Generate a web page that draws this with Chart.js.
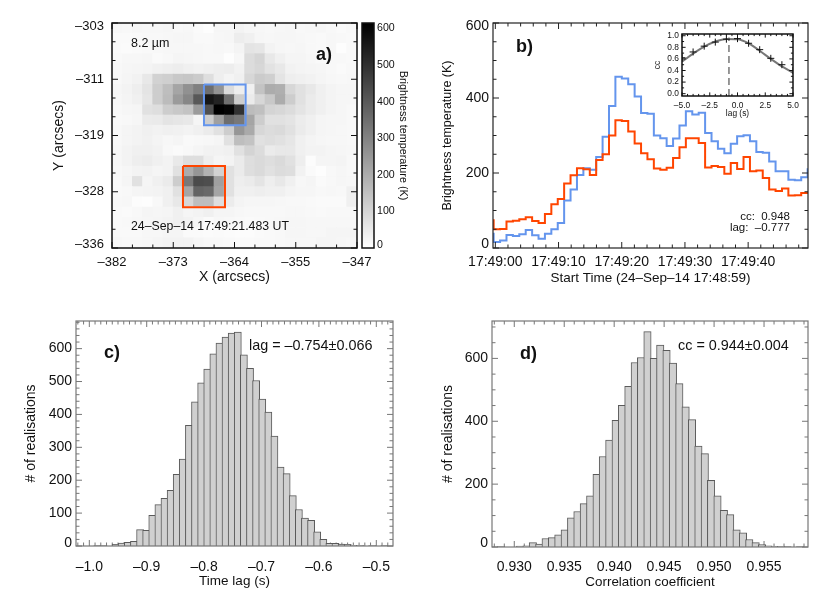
<!DOCTYPE html>
<html lang="en">
<head>
<meta charset="UTF-8">
<title>Brightness temperature panels</title>
<script src="https://cdn.jsdelivr.net/npm/chart.js"></script>
<style>
    body { margin: 0; background: #fff; width: 830px; height: 595px; overflow: hidden; position: relative; font-family: "Liberation Sans", sans-serif; color: #111; }
    canvas { position: absolute; }
    .note { position: absolute; white-space: pre; transform: translateY(-50%); }
    .panel { font-weight: bold; font-size: 18px; }
</style>
</head>
<body>
<canvas id="mapChart"></canvas>
<canvas id="barChart"></canvas>
<canvas id="timeChart"></canvas>
<canvas id="insetChart"></canvas>
<canvas id="lagChart"></canvas>
<canvas id="ccChart"></canvas>

<div class="note" style="left:131px;top:43px;font-size:12.5px">8.2 µm</div>
<div class="note panel" style="left:316px;top:54px">a)</div>
<div class="note" style="left:131px;top:226px;font-size:12.3px">24–Sep–14 17:49:21.483 UT</div>
<div class="note panel" style="left:516px;top:46px">b)</div>
<div class="note" style="right:40px;top:216px;font-size:11.5px">cc:  0.948</div>
<div class="note" style="right:40px;top:227px;font-size:11.5px">lag:  –0.777</div>
<div class="note panel" style="left:104px;top:352px">c)</div>
<div class="note" style="left:249px;top:345px;font-size:14.4px">lag = –0.754±0.066</div>
<div class="note panel" style="left:520px;top:353px">d)</div>
<div class="note" style="left:678px;top:345px;font-size:14.4px">cc = 0.944±0.004</div>

<script>
    // a) 8.2 um map, brightness temperature (K), rows top to bottom
    const mapX = [-381.27, -379.81, -378.35, -376.9, -375.44, -373.98, -372.52, -371.06, -369.6, -368.15, -366.69, -365.23, -363.77, -362.31, -360.85, -359.4, -357.94, -356.48, -355.02, -353.56, -352.1, -350.65, -349.19, -347.73];
    const mapY = [-303, -304.5, -306, -307.5, -309, -310.5, -312, -313.5, -315, -316.5, -318, -319.5, -321, -322.5, -324, -325.5, -327, -328.5, -330, -331.5, -333, -334.5, -336];
    const mapRows = [
        [19,17,22,19,19,22,17,19,12,5,22,22,29,22,19,17,19,22,17,19,22,17,12,17],
        [12,12,14,17,17,19,22,22,14,14,19,22,43,36,22,19,22,22,19,17,14,19,17,14],
        [12,10,12,14,17,19,19,19,19,17,19,17,27,65,60,29,22,19,22,17,14,19,5,14],
        [14,19,19,22,12,17,24,22,19,17,17,5,19,84,101,55,36,24,24,19,14,17,17,14],
        [17,22,24,27,34,38,43,36,31,36,41,43,31,84,96,70,55,31,27,24,22,17,12,17],
        [17,24,31,55,108,116,133,137,125,80,41,27,36,96,125,116,65,41,36,31,24,19,17,19],
        [22,29,41,65,120,157,217,265,306,349,258,84,41,36,145,200,193,96,72,55,36,27,22,22],
        [19,27,36,60,120,161,241,289,402,562,530,345,120,48,96,133,200,120,72,48,36,27,22,22],
        [17,22,24,72,80,120,133,145,241,422,615,603,494,161,152,104,96,84,65,48,36,27,22,17],
        [14,17,22,48,51,65,60,55,24,120,229,349,325,217,120,72,72,65,46,36,24,22,22,17],
        [17,24,29,36,31,36,34,29,36,48,72,120,253,205,96,84,89,72,48,36,24,22,19,17],
        [17,24,29,34,27,19,24,14,17,19,24,72,157,145,72,80,72,60,36,27,22,19,19,17],
        [19,29,36,36,31,17,12,17,24,31,31,36,72,104,84,48,55,55,36,29,29,24,22,19],
        [19,29,41,46,36,29,53,80,80,41,24,29,48,80,89,80,89,72,41,7,24,24,27,17],
        [17,22,29,31,24,29,72,200,253,186,108,72,48,80,89,72,84,80,31,12,5,17,22,17],
        [14,24,72,24,36,48,120,325,434,427,229,72,41,48,65,41,55,36,19,24,12,17,22,19],
        [14,17,24,27,29,36,72,217,374,362,217,72,36,36,41,36,36,27,22,22,17,19,17,36],
        [17,19,7,5,17,36,55,96,157,157,80,46,27,22,22,22,19,17,17,14,12,12,12,36],
        [14,12,17,24,22,24,36,24,29,36,24,24,19,17,17,17,17,19,19,17,14,17,17,17],
        [14,17,19,22,24,29,36,31,22,12,19,17,14,12,14,17,19,22,22,19,19,19,19,19],
        [14,14,14,19,19,24,24,12,12,10,12,10,7,7,12,14,17,22,22,19,19,24,24,24],
        [19,17,17,19,24,29,29,29,22,17,17,14,12,12,14,14,17,19,19,19,24,24,22,19]
    ];
    const blueBoxX = [-368.86, -362.91, -362.91, -368.86, -368.86];
    const blueBoxY = [-312.03, -312.03, -318, -318, -312.03];
    const redBoxX = [-371.86, -365.86, -365.86, -371.86, -371.86];
    const redBoxY = [-323.97, -323.97, -330.03, -330.03, -323.97];
    const mapMaxK = 615;

    // b) light curves
    const timeSec = [-0.77, 0.24, 1.26, 2.27, 3.28, 4.30, 5.31, 6.33, 7.34, 8.35, 9.37, 10.38, 11.39, 12.41, 13.42, 14.44, 15.45, 16.46, 17.48, 18.49, 19.50, 20.52, 21.53, 22.55, 23.56, 24.57, 25.59, 26.60, 27.61, 28.63, 29.64, 30.65, 31.67, 32.68, 33.70, 34.71, 35.72, 36.74, 37.75, 38.76, 39.78, 40.79, 41.80, 42.82, 43.83, 44.85, 45.86, 46.87, 47.89, 48.90, 49.92];
    const blueK = [38,16,20,35,32,37,48,34,25,38,50,67,127,156,195,213,209,243,297,379,457,452,437,404,360,358,300,293,272,292,327,365,356,361,307,285,265,253,278,298,301,285,256,254,231,205,205,182,181,189,210];
    const redK = [74,50,51,71,73,77,82,72,67,91,117,131,172,194,213,210,195,235,250,300,341,339,311,279,253,237,212,209,214,240,269,293,293,280,215,219,216,198,227,211,243,205,207,187,156,152,159,140,141,147,147];
    const timeTicks = [0, 10, 20, 30, 40];
    const timeLabels = ['17:49:00', '17:49:10', '17:49:20', '17:49:30', '17:49:40'];

    // b) inset, cross correlation against lag
    const lagSec = [-5, -4, -3, -2, -1, 0, 1, 2, 3, 4, 5];
    const ccFit = [0.55, 0.69, 0.81, 0.90, 0.945, 0.94, 0.87, 0.74, 0.60, 0.47, 0.36];
    const ccPoints = [0.62, 0.72, 0.82, 0.89, 0.94, 0.95, 0.87, 0.76, 0.61, 0.50, 0.40];
    const lagMarkX = [-0.77, -0.77];
    const lagMarkY = [-0.04, 0.97];

    // c) time lag histogram
    const lagBins = [-0.9860, -0.9754, -0.9647, -0.9541, -0.9435, -0.9328, -0.9222, -0.9115, -0.9009, -0.8903, -0.8796, -0.8690, -0.8583, -0.8477, -0.8371, -0.8264, -0.8158, -0.8051, -0.7945, -0.7839, -0.7732, -0.7626, -0.7519, -0.7413, -0.7307, -0.7200, -0.7094, -0.6987, -0.6881, -0.6775, -0.6668, -0.6562, -0.6455, -0.6349, -0.6243, -0.6136, -0.6030, -0.5923, -0.5817, -0.5711, -0.5604, -0.5498, -0.5391, -0.5285, -0.5179, -0.5072, -0.4966, -0.4859];
    const lagCounts = [1,1,0,5,9,11,14,50,48,93,126,145,169,218,264,367,438,496,538,584,617,635,647,650,581,540,503,447,407,334,240,220,153,111,85,78,43,20,8,8,6,5,2,2,0,1,0,1];

    // d) correlation coefficient histogram
    const ccBins = [0.92868, 0.92932, 0.92995, 0.93059, 0.93123, 0.93186, 0.93250, 0.93314, 0.93378, 0.93441, 0.93505, 0.93569, 0.93632, 0.93696, 0.93760, 0.93824, 0.93887, 0.93951, 0.94015, 0.94078, 0.94142, 0.94206, 0.94269, 0.94333, 0.94397, 0.94461, 0.94524, 0.94588, 0.94652, 0.94715, 0.94779, 0.94843, 0.94907, 0.94970, 0.95034, 0.95098, 0.95161, 0.95225, 0.95289, 0.95352, 0.95416, 0.95480, 0.95544, 0.95607, 0.95671, 0.95735, 0.95798, 0.95862];
    const ccCounts = [1,0,0,3,4,14,9,27,30,39,55,93,113,138,163,231,288,340,403,451,511,587,603,685,600,642,626,585,520,446,405,321,297,212,163,117,103,55,45,24,14,8,4,2,2,1,0,1];

    Chart.defaults.font.family = '"Liberation Sans", sans-serif';
    Chart.defaults.color = '#111';

    // IDL style box: frame plus inward ticks on all four sides
    function tickList(scale, spec) {
        const step = (spec.major[1] - spec.major[0]) / spec.sub;
        const list = [];
        for (let i = -spec.sub; i <= spec.major.length * spec.sub; i++) {
            const v = spec.major[0] + i * step;
            if (v < Math.min(scale.min, scale.max) - 1e-9 || v > Math.max(scale.min, scale.max) + 1e-9) continue;
            list.push([scale.getPixelForValue(v), i % spec.sub === 0 ? 6 : 3.5]);
        }
        return list;
    }
    function drawTicks(chart, opts) {
        const { ctx, chartArea: a, scales } = chart;
        const k = opts.scale || 1;
        ctx.save();
        ctx.strokeStyle = opts.color;
        ctx.lineWidth = 1;
        ctx.beginPath();
        if (opts.x) tickList(scales.x, opts.x).forEach(([p, l]) => {
            ctx.moveTo(p, a.bottom); ctx.lineTo(p, a.bottom - l * k);
            ctx.moveTo(p, a.top); ctx.lineTo(p, a.top + l * k);
        });
        if (opts.y) tickList(scales.y, opts.y).forEach(([p, l]) => {
            ctx.moveTo(a.left, p); ctx.lineTo(a.left + l * k, p);
            ctx.moveTo(a.right, p); ctx.lineTo(a.right - l * k, p);
        });
        ctx.stroke();
        ctx.restore();
    }
    const boxTicks = {
        id: 'boxTicks',
        beforeDatasetsDraw(chart, args, opts) {
            if (opts.under) drawTicks(chart, opts);
        },
        afterDraw(chart, args, opts) {
            if (!opts.under) drawTicks(chart, opts);
            const { ctx, chartArea: a } = chart;
            ctx.save();
            ctx.strokeStyle = opts.color;
            ctx.lineWidth = opts.width;
            ctx.strokeRect(a.left, a.top, a.width, a.height);
            ctx.restore();
        }
    };

    function place(id, frame) {
        const c = document.getElementById(id);
        c.width = frame[2] - frame[0];
        c.height = frame[3] - frame[1];
        c.style.left = frame[0] + 'px';
        c.style.top = frame[1] + 'px';
        return c;
    }

    function axis(cfg) {
        const o = {
            type: 'linear',
            min: cfg.min,
            max: cfg.max,
            offset: false,
            position: cfg.position,
            grid: { display: false, drawTicks: false },
            border: { display: false },
            afterBuildTicks: s => { s.ticks = cfg.at.map(v => ({ value: v })); },
            afterFit: s => {
                if (s.isHorizontal()) s.height = cfg.extent; else s.width = cfg.extent;
                s.paddingLeft = s.paddingRight = s.paddingTop = s.paddingBottom = 0;
            },
            ticks: {
                autoSkip: false,
                maxRotation: 0,
                padding: cfg.pad,
                font: { size: cfg.size },
                callback: (v, i) => cfg.labels[i]
            }
        };
        if (cfg.title) o.title = { display: true, text: cfg.title, padding: 0, font: { size: cfg.titleSize } };
        return o;
    }

    function baseOptions(frame, plot, scales, box) {
        return {
            responsive: false,
            animation: false,
            layout: { padding: { top: plot[1] - frame[1], right: frame[2] - plot[2] } },
            scales: scales,
            plugins: { legend: { display: false }, tooltip: { enabled: false }, boxTicks: box }
        };
    }

    function gray(v) {
        const g = Math.round(255 * (1 - Math.min(v, mapMaxK) / mapMaxK));
        return `rgb(${g},${g},${g})`;
    }

    // panel a
    const mapCells = [];
    mapRows.forEach((row, r) => row.forEach((v, c) => {
        mapCells.push({ x: mapX[c], y: [mapY[r + 1], mapY[r]], v: v });
    }));
    const mapFrame = [51, 8, 372, 286], mapPlot = [112, 23, 357, 248];
    new Chart(place('mapChart', mapFrame), {
        type: 'bar',
        data: {
            datasets: [
                { type: 'line', data: blueBoxX.map((x, i) => ({ x, y: blueBoxY[i] })), borderColor: '#6495ed', borderWidth: 2, pointRadius: 0, tension: 0 },
                { type: 'line', data: redBoxX.map((x, i) => ({ x, y: redBoxY[i] })), borderColor: '#ff4500', borderWidth: 2, pointRadius: 0, tension: 0 },
                { data: mapCells, barThickness: 10.4, borderWidth: 0, backgroundColor: ctx => gray(ctx.raw.v) }
            ]
        },
        options: baseOptions(mapFrame, mapPlot, {
            x: axis({ min: -382, max: -347, at: [-382, -373.25, -364.5, -355.75, -347], labels: ['–382', '–373', '–364', '–355', '–347'], size: 13, pad: 7, extent: mapFrame[3] - mapPlot[3], title: 'X (arcsecs)', titleSize: 14 }),
            y: axis({ min: -336, max: -303, at: [-335.5, -327.75, -319.5, -311.25, -303.5], labels: ['–336', '–328', '–319', '–311', '–303'], size: 13, pad: 8, extent: mapPlot[0] - mapFrame[0], title: 'Y (arcsecs)', titleSize: 14 })
        }, {
            color: '#111', width: 1.5,
            x: { major: [-382, -373.25, -364.5, -355.75, -347], sub: 3 },
            y: { major: [-303, -311.25, -319.5, -327.75, -336], sub: 3 }
        }),
        plugins: [boxTicks]
    });

    // colour bar
    const barTicks = [0, 100, 200, 300, 400, 500, 600];
    const barFrame = [355, 8, 409, 260], barPlot = [362, 23, 374, 248];
    const barOpts = baseOptions(barFrame, barPlot, {
        x: { display: false },
        y: axis({ min: 0, max: mapMaxK, position: 'right', at: [9, 100, 200, 300, 400, 500, 600], labels: barTicks.map(String), size: 10.6, pad: 3, extent: barFrame[2] - barPlot[2], title: 'Brightness temperature (K)', titleSize: 10.8 })
    }, { color: '#111', width: 1.5 });
    barOpts.layout.padding = { top: barPlot[1] - barFrame[1], left: barPlot[0] - barFrame[0], bottom: barFrame[3] - barPlot[3] };
    new Chart(place('barChart', barFrame), {
        type: 'bar',
        data: {
            labels: ['K'],
            datasets: [{
                data: [[0, mapMaxK]],
                categoryPercentage: 1,
                barPercentage: 1,
                borderWidth: 0,
                backgroundColor: ctx => {
                    const a = ctx.chart.chartArea;
                    if (!a) return '#888';
                    const g = ctx.chart.ctx.createLinearGradient(0, a.bottom, 0, a.top);
                    g.addColorStop(0, '#fff');
                    g.addColorStop(1, '#000');
                    return g;
                }
            }]
        },
        options: barOpts,
        plugins: [boxTicks]
    });

    // panel b
    const timeFrame = [440, 8, 825, 286], timePlot = [493, 23, 808, 248];
    new Chart(place('timeChart', timeFrame), {
        type: 'line',
        data: {
            datasets: [
                { data: timeSec.map((x, i) => ({ x, y: redK[i] })), borderColor: '#ff4500', borderWidth: 2, pointRadius: 0, stepped: 'middle' },
                { data: timeSec.map((x, i) => ({ x, y: blueK[i] })), borderColor: '#6495ed', borderWidth: 2, pointRadius: 0, stepped: 'middle' }
            ]
        },
        options: baseOptions(timeFrame, timePlot, {
            x: axis({ min: -0.37, max: 49.47, at: timeTicks, labels: timeLabels, size: 14, pad: 6, extent: timeFrame[3] - timePlot[3], title: 'Start Time (24–Sep–14 17:48:59)', titleSize: 13.5 }),
            y: axis({ min: 0, max: 600, at: [10, 200, 400, 591], labels: ['0', '200', '400', '600'], size: 14, pad: 4, extent: timePlot[0] - timeFrame[0], title: 'Brightness temperature (K)', titleSize: 12.5 })
        }, {
            color: '#222', width: 1.2,
            x: { major: timeTicks, sub: 5 },
            y: { major: [0, 200, 400, 600], sub: 4 }
        }),
        plugins: [boxTicks]
    });

    // inset of panel b
    const insetFrame = [653, 25, 800, 119], insetPlot = [682, 34, 793, 96];
    new Chart(place('insetChart', insetFrame), {
        type: 'line',
        data: {
            datasets: [
                { data: lagSec.map((x, i) => ({ x, y: ccPoints[i] })), showLine: false, pointStyle: 'cross', pointRadius: 3.5, pointBorderColor: '#111', pointBorderWidth: 1 },
                { data: lagSec.map((x, i) => ({ x, y: ccFit[i] })), borderColor: '#777', borderWidth: 2, pointRadius: 0, cubicInterpolationMode: 'monotone' },
                { data: lagMarkX.map((x, i) => ({ x, y: lagMarkY[i] })), borderColor: '#777', borderWidth: 1.5, borderDash: [7, 4], pointRadius: 0 }
            ]
        },
        options: baseOptions(insetFrame, insetPlot, {
            x: axis({ min: -5, max: 5, at: [-5, -2.5, 0, 2.5, 5], labels: ['–5.0', '–2.5', '0.0', '2.5', '5.0'], size: 8.4, pad: 5, extent: insetFrame[3] - insetPlot[3], title: 'lag (s)', titleSize: 8.4 }),
            y: axis({ min: -0.04, max: 1.03, at: [0, 0.2, 0.4, 0.6, 0.8, 1], labels: ['0.0', '0.2', '0.4', '0.6', '0.8', '1.0'], size: 8.4, pad: 3, extent: insetPlot[0] - insetFrame[0], title: 'cc', titleSize: 8.4 })
        }, {
            color: '#111', width: 1.5, scale: 0.6,
            x: { major: [-5, -2.5, 0, 2.5, 5], sub: 5 },
            y: { major: [0, 0.2, 0.4, 0.6, 0.8, 1], sub: 2 }
        }),
        plugins: [boxTicks]
    });

    function histDataset(bins, counts, thickness) {
        return {
            data: bins.map((x, i) => ({ x, y: counts[i] })),
            barThickness: thickness,
            backgroundColor: '#d0d0d0',
            borderColor: '#5a5a5a',
            borderWidth: 1,
            grouped: false
        };
    }

    // panel c
    const lagFrame = [23, 306, 410, 589], lagPlot = [76, 321, 393, 546];
    new Chart(place('lagChart', lagFrame), {
        type: 'bar',
        data: { datasets: [histDataset(lagBins, lagCounts, 7.1)] },
        options: baseOptions(lagFrame, lagPlot, {
            x: axis({ min: -1.0232, max: -0.4709, at: [-1, -0.9, -0.8, -0.7, -0.6, -0.5], labels: ['–1.0', '–0.9', '–0.8', '–0.7', '–0.6', '–0.5'], size: 14, pad: 13, extent: lagFrame[3] - lagPlot[3], title: 'Time lag (s)', titleSize: 13.5 }),
            y: axis({ min: 0, max: 684, at: [10, 100, 200, 300, 400, 500, 600], labels: ['0', '100', '200', '300', '400', '500', '600'], size: 14, pad: 4, extent: lagPlot[0] - lagFrame[0], title: '# of realisations', titleSize: 14 })
        }, {
            color: '#777', width: 1.2, under: true,
            x: { major: [-1, -0.9, -0.8, -0.7, -0.6, -0.5], sub: 10 },
            y: { major: [0, 100, 200, 300, 400, 500, 600], sub: 5 }
        }),
        plugins: [boxTicks]
    });

    // panel d
    const ccFrame = [440, 306, 825, 590], ccPlot = [492, 321, 808, 547];
    new Chart(place('ccChart', ccFrame), {
        type: 'bar',
        data: { datasets: [histDataset(ccBins, ccCounts, 7.4)] },
        options: baseOptions(ccFrame, ccPlot, {
            x: axis({ min: 0.92777, max: 0.9594, at: [0.93, 0.935, 0.94, 0.945, 0.95, 0.955], labels: ['0.930', '0.935', '0.940', '0.945', '0.950', '0.955'], size: 14, pad: 12, extent: ccFrame[3] - ccPlot[3], title: 'Correlation coefficient', titleSize: 13.4 }),
            y: axis({ min: 0, max: 719, at: [12, 200, 400, 600], labels: ['0', '200', '400', '600'], size: 14, pad: 4, extent: ccPlot[0] - ccFrame[0], title: '# of realisations', titleSize: 14 })
        }, {
            color: '#777', width: 1.2, under: true,
            x: { major: [0.93, 0.935, 0.94, 0.945, 0.95, 0.955], sub: 5 },
            y: { major: [0, 200, 400, 600], sub: 4 }
        }),
        plugins: [boxTicks]
    });
</script>
</body>
</html>
